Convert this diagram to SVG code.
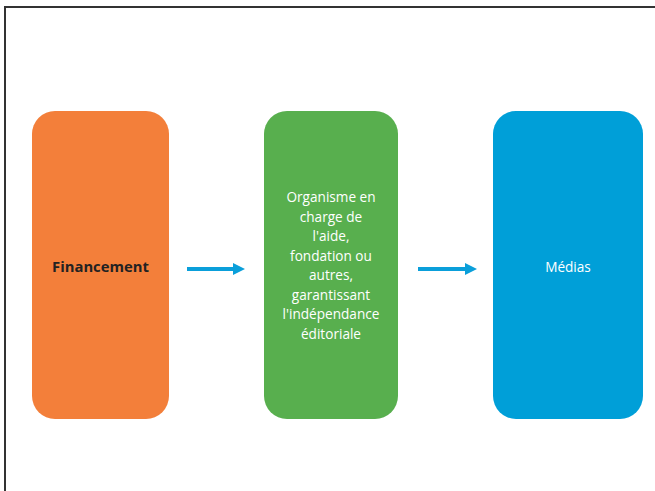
<svg xmlns="http://www.w3.org/2000/svg" width="655" height="491" viewBox="0 0 655 491">
<style>
.lbl{font-family:"Open Sans","Liberation Sans",sans-serif;font-size:13.6px;fill:#ffffff;text-anchor:middle}
.bold{font-family:"Open Sans","Liberation Sans",sans-serif;font-size:14.8px;font-weight:bold;fill:#222222;text-anchor:middle}
.conn{stroke:#0A9FDA;stroke-width:4;fill:none}
</style>
<defs>
<marker id="ah" markerUnits="userSpaceOnUse" markerWidth="12" markerHeight="12" refX="0" refY="6" orient="auto">
<path d="M0,0 L12,6 L0,12 Z" fill="#0A9FDA"/>
</marker>
</defs>
<rect x="0" y="0" width="655" height="491" fill="#ffffff"/>
<path d="M5,491 V7 H655" fill="none" stroke="#333333" stroke-width="2"/>
<g id="financement">
<rect x="32" y="111" width="137" height="308" rx="23" fill="#F37F3A"/>
<text class="bold" x="100.5" y="272">Financement</text>
</g>
<g id="organisme">
<rect x="264" y="111" width="134" height="308" rx="23" fill="#58AF4E"/>
<text class="lbl" x="331" y="202">Organisme en</text>
<text class="lbl" x="331" y="221.5">charge de</text>
<text class="lbl" x="331" y="241">l'aide,</text>
<text class="lbl" x="331" y="260.5">fondation ou</text>
<text class="lbl" x="331" y="280">autres,</text>
<text class="lbl" x="331" y="299.5">garantissant</text>
<text class="lbl" x="331" y="319">l'indépendance</text>
<text class="lbl" x="331" y="338.5">éditoriale</text>
</g>
<g id="medias">
<rect x="493" y="111" width="150" height="308" rx="23" fill="#009FD8"/>
<text class="lbl" x="568" y="272">Médias</text>
</g>
<g id="connectors">
<line class="conn" x1="187" y1="269" x2="233" y2="269" marker-end="url(#ah)"/>
<line class="conn" x1="418" y1="269" x2="465" y2="269" marker-end="url(#ah)"/>
</g>
</svg>
